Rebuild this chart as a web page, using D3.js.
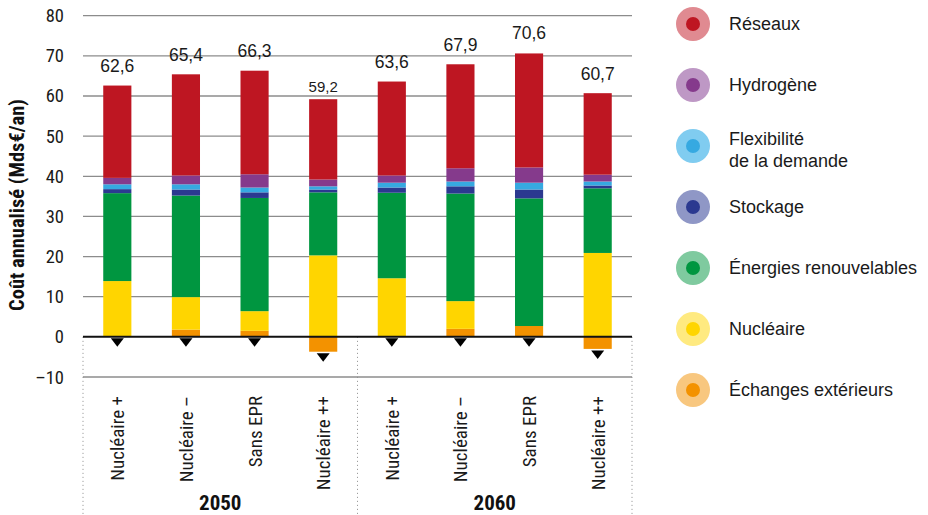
<!DOCTYPE html>
<html><head><meta charset="utf-8">
<script src="https://cdn.jsdelivr.net/npm/d3@7"></script>
<style>
html,body{margin:0;padding:0;background:#fff;}
svg{display:block;}
.cond{font-family:'Liberation Sans Narrow','Roboto Condensed','DejaVu Sans Condensed',sans-serif;font-stretch:condensed;}
.reg{font-family:'Liberation Sans',Arial,Helvetica,sans-serif;}
</style>
</head><body>
<svg id="chart" width="928" height="515"></svg>
<script>
// ---- data ----
const years = ["2050", "2060"];
const scenarios = ["Nucléaire +", "Nucléaire –", "Sans EPR", "Nucléaire ++",
                   "Nucléaire +", "Nucléaire –", "Sans EPR", "Nucléaire ++"];
const reseaux     = [23.0, 25.2, 25.8, 20.0, 23.4, 25.9, 28.4, 20.3];
const hydrogene   = [1.6, 2.2, 3.3, 1.7, 1.8, 3.3, 3.8, 1.7];
const flexibilite = [1.2, 1.3, 1.2, 0.8, 1.2, 1.2, 1.7, 1.0];
const stockage    = [1.0, 1.5, 1.4, 0.7, 1.3, 1.8, 2.2, 0.7];
const renouvelables = [21.9, 25.3, 28.2, 15.7, 21.3, 26.8, 31.8, 16.1];
const nucleaire   = [13.9, 8.1, 4.9, 20.3, 14.6, 6.9, 0.0, 20.9];
const echanges    = [0.0, 1.8, 1.5, -3.7, 0.0, 2.0, 2.7, -3.0];
const totals      = ["62,6", "65,4", "66,3", "59,2", "63,6", "67,9", "70,6", "60,7"];
const yTicks      = [-10, 0, 10, 20, 30, 40, 50, 60, 70, 80];
const tickLabels  = ["–10", "0", "10", "20", "30", "40", "50", "60", "70", "80"];

const seriesNames = ["Échanges extérieurs", "Nucléaire", "Énergies renouvelables", "Stockage",
                     "Flexibilité de la demande", "Hydrogène", "Réseaux"];
const seriesValues = [echanges, nucleaire, renouvelables, stockage, flexibilite, hydrogene, reseaux];
const colors = ["#F39200", "#FFD500", "#009640", "#2B3990", "#36A9E1", "#853A8C", "#BE1622"];
const lightColors = ["#F8C77F", "#FFEA80", "#7FCA9F", "#8F97C6", "#80CCF0", "#BE98C5", "#E08A91"];

// ---- layout ----
const svg = d3.select("#chart");
const x0 = 83, x1 = 632;
const x = d3.scaleBand().domain(d3.range(scenarios.length)).range([x0, x1])
  .paddingInner(0.59).paddingOuter(0.295);
const y = d3.scaleLinear().domain([-10, 80]).range([377, 15.7]);

const rows = scenarios.map((s, i) => {
  const r = {i};
  seriesNames.forEach((n, k) => r[n] = seriesValues[k][i]);
  return r;
});
const stack = d3.stack().keys(seriesNames).offset(d3.stackOffsetDiverging);
const stacked = stack(rows);

// gridlines
svg.append("g").selectAll("line").data(yTicks.filter(t => t !== 0)).join("line")
  .attr("x1", x0).attr("x2", x1)
  .attr("y1", d => y(d)).attr("y2", d => y(d))
  .attr("stroke", "#8c8c8c").attr("stroke-width", 1.3);

// tick labels
svg.append("g").selectAll("text").data(yTicks).join("text")
  .attr("class", "cond")
  .attr("x", 64).attr("y", d => y(d) + 6.5)
  .attr("text-anchor", "end").attr("font-size", 18.5).attr("fill", "#1a1a1a")
  .text((d, i) => tickLabels[i]);

// dotted separators
const seps = [x0, (x(3) + x.bandwidth() + x(4)) / 2, x1];
svg.append("g").selectAll("line").data(seps).join("line")
  .attr("x1", d => d).attr("x2", d => d)
  .attr("y1", y(0)).attr("y2", 515)
  .attr("stroke", "#8c8c8c").attr("stroke-width", 1).attr("stroke-dasharray", "1,3");

// bars
svg.append("g").selectAll("g").data(stacked).join("g")
  .attr("fill", (d, k) => colors[k])
  .selectAll("rect").data(d => d).join("rect")
  .attr("x", d => x(d.data.i))
  .attr("width", x.bandwidth())
  .attr("y", d => y(Math.max(d[0], d[1])))
  .attr("height", d => Math.abs(y(d[0]) - y(d[1])));

// zero line
svg.append("line").attr("x1", x0).attr("x2", x1).attr("y1", y(0)).attr("y2", y(0))
  .attr("stroke", "#111").attr("stroke-width", 2);

// triangles below bars
svg.append("g").selectAll("path").data(rows).join("path")
  .attr("d", d => {
    const cx = x(d.i) + x.bandwidth() / 2;
    const top = y(Math.min(0, d["Échanges extérieurs"])) + 1.5;
    return `M${cx - 6.5},${top}L${cx + 6.5},${top}L${cx},${top + 8.5}Z`;
  })
  .attr("fill", "#000");

// total labels
const labelSize = [17.5, 17.5, 17.5, 15, 17.5, 17.5, 17.5, 17.5];
const labelGap = [14, 13, 14, 7, 14, 13, 14, 13];
svg.append("g").selectAll("text").data(rows).join("text")
  .attr("class", "reg")
  .attr("x", d => x(d.i) + x.bandwidth() / 2)
  .attr("y", d => {
    const pos = d3.sum(seriesNames, n => Math.max(0, d[n]));
    return y(pos) - labelGap[d.i];
  })
  .attr("text-anchor", "middle")
  .attr("font-size", d => labelSize[d.i])
  .attr("fill", "#1a1a1a")
  .text(d => totals[d.i]);

// category labels
svg.append("g").selectAll("text").data(scenarios).join("text")
  .attr("class", "cond")
  .attr("transform", (d, i) => `translate(${x(i) + x.bandwidth() / 2 + 7},396) rotate(-90)`)
  .attr("text-anchor", "end").attr("font-size", 19).attr("fill", "#1a1a1a")
  .text(d => d);

// year labels
svg.append("g").selectAll("text").data(years).join("text")
  .attr("class", "cond")
  .attr("x", (d, i) => (seps[i] + seps[i + 1]) / 2)
  .attr("y", 510)
  .attr("text-anchor", "middle").attr("font-size", 21).attr("font-weight", "bold")
  .attr("fill", "#111")
  .text(d => d);

// y axis title
svg.append("text").attr("class", "cond")
  .attr("transform", "translate(24,205) rotate(-90)")
  .attr("text-anchor", "middle").attr("font-size", 20.5).attr("font-weight", "bold")
  .attr("fill", "#111")
  .text("Coût annualisé (Mds€/an)");

// legend
const legendOrder = [6, 5, 4, 3, 2, 1, 0];
const legendLines = {
  "Réseaux": ["Réseaux"], "Hydrogène": ["Hydrogène"],
  "Flexibilité de la demande": ["Flexibilité", "de la demande"],
  "Stockage": ["Stockage"], "Énergies renouvelables": ["Énergies renouvelables"],
  "Nucléaire": ["Nucléaire"], "Échanges extérieurs": ["Échanges extérieurs"]
};
const lg = svg.append("g").selectAll("g").data(legendOrder).join("g")
  .attr("transform", (k, j) => `translate(693,${24 + j * 61})`);
lg.append("circle").attr("r", 17).attr("fill", k => lightColors[k]);
lg.append("circle").attr("r", 7).attr("fill", k => colors[k]);
lg.each(function(k) {
  const lines = legendLines[seriesNames[k]];
  const t = d3.select(this).append("text").attr("class", "reg")
    .attr("font-size", 18).attr("fill", "#1a1a1a");
  lines.forEach((l, li) => {
    t.append("tspan").attr("x", 36)
      .attr("y", lines.length === 1 ? 6 : (li === 0 ? -1 : 21))
      .text(l);
  });
});
</script>
</body></html>
